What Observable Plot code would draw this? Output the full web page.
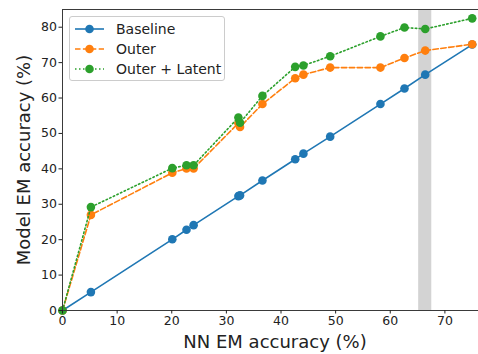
<!DOCTYPE html>
<html>
<head>
<meta charset="utf-8">
<script src="https://cdn.jsdelivr.net/npm/d3@7"></script>
<script src="https://cdn.jsdelivr.net/npm/@observablehq/plot@0.6"></script>
<style>
  html, body { margin: 0; padding: 0; background: #fff; }
  #wrap { position: relative; width: 478px; height: 354px; overflow: hidden; font-family: "DejaVu Sans", sans-serif; }
  #wrap > svg { max-width: none !important; width: 487px; height: 354px; display: block; }
  #legend { position: absolute; left: 69px; top: 16px; width: 156px; height: 65px; border: 1px solid #cccccc; border-radius: 3px; background: rgba(255,255,255,0.8); box-sizing: border-box; }
  .row { position: absolute; left: 0; height: 20px; display: flex; align-items: center; }
  .row svg { margin-left: 5px; }
  .row span { margin-left: 11px; font-size: 14px; color: #222; }
</style>
</head>
<body>
<div id="wrap"></div>
<script>
const series = ["Baseline", "Outer", "Outer + Latent"];
const colors = ["#1f77b4", "#ff7f0e", "#2ca02c"];
const dashes = [null, "5.5,2.4", "1.5,2.5"];
const nnAcc    = [0, 5.2, 20.1, 22.7, 24.0, 32.2, 32.5, 36.6, 42.6, 44.1, 49.0, 58.2, 62.6, 66.4, 75.0];
const baseline = [0, 5.2, 20.1, 22.8, 24.1, 32.3, 32.5, 36.7, 42.7, 44.3, 49.1, 58.3, 62.7, 66.6, 75.1];
const outer    = [0, 27.0, 38.9, 40.1, 40.1, 52.9, 51.8, 58.3, 65.6, 66.6, 68.6, 68.6, 71.3, 73.4, 75.2];
const latent   = [0, 29.2, 40.2, 41.0, 41.0, 54.5, 53.0, 60.6, 68.8, 69.2, 71.8, 77.4, 79.9, 79.5, 82.5];
const band = [{x1: 65.2, x2: 67.6}];
const xTicks = [0, 10, 20, 30, 40, 50, 60, 70];
const yTicks = [0, 10, 20, 30, 40, 50, 60, 70, 80];
const xLabel = "NN EM accuracy (%)";
const yLabel = "Model EM accuracy (%)";

const values = [baseline, outer, latent];
const marks = [
  Plot.rectX(band, {x1: "x1", x2: "x2", y1: 0, y2: 85, fill: "#d3d3d3"})
];
values.forEach((vals, i) => {
  const data = nnAcc.map((x, j) => ({x, y: vals[j]}));
  marks.push(Plot.line(data, {x: "x", y: "y", stroke: colors[i], strokeWidth: 1.6, strokeDasharray: dashes[i], curve: "linear"}));
  marks.push(Plot.dot(data, {x: "x", y: "y", r: 4.3, fill: colors[i], stroke: "none"}));
});
marks.push(Plot.frame({stroke: "#3a3a3a", strokeWidth: 1}));
marks.push(Plot.axisX({ticks: xTicks, tickSize: 3.5, tickPadding: 2, fontSize: 12.5, label: null}));
marks.push(Plot.axisY({ticks: yTicks, tickSize: 3.5, tickPadding: 2, fontSize: 12.5, label: null}));
marks.push(Plot.text([xLabel], {frameAnchor: "bottom", dy: 32, lineAnchor: "middle", textAnchor: "middle", fontSize: 18, fill: "#222", text: d => d}));
marks.push(Plot.text([yLabel], {frameAnchor: "left", dx: -38, rotate: -90, lineAnchor: "middle", textAnchor: "middle", fontSize: 18, fill: "#222", text: d => d}));

const chart = Plot.plot({
  width: 487,
  height: 354,
  marginLeft: 62,
  marginRight: 0,
  marginTop: 9,
  marginBottom: 44,
  x: {domain: [0, 77.8]},
  y: {domain: [0, 85]},
  style: {fontFamily: "DejaVu Sans, sans-serif", fontSize: "12.5px", color: "#222", background: "#fff", overflow: "visible", maxWidth: "none"},
  marks
});
document.getElementById("wrap").appendChild(chart);

// legend
const legend = document.createElement("div");
legend.id = "legend";
series.forEach((name, i) => {
  const row = document.createElement("div");
  row.className = "row";
  row.style.top = (1.7 + i * 20.3) + "px";
  row.innerHTML = `<svg width="30" height="12"><line x1="0" x2="29" y1="6" y2="6" stroke="${colors[i]}" stroke-width="1.6" ${dashes[i] ? `stroke-dasharray="${dashes[i]}"` : ""}/><circle cx="14.5" cy="6" r="4.3" fill="${colors[i]}"/></svg><span>${name}</span>`;
  legend.appendChild(row);
});
document.getElementById("wrap").appendChild(legend);
</script>
</body>
</html>
